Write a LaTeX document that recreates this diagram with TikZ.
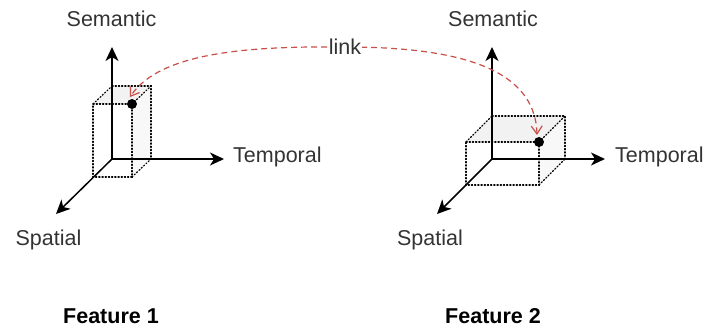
\documentclass[tikz,border=0pt]{standalone}
\usepackage{fontspec}
\setmainfont{Liberation Sans}
\usetikzlibrary{arrows.meta}
\definecolor{txt}{HTML}{333333}
\definecolor{linkred}{HTML}{C8504A}
\definecolor{topface}{HTML}{F2F2F2}
\definecolor{sideface}{HTML}{F8F8F8}
\tikzset{
  axis/.style={line width=1.5pt, -{Stealth[length=14pt,width=13pt,inset=4pt]}},
  edge/.style={dotted, line width=1.2pt, line cap=round},
  lbl/.style={font=\fontsize{21.5}{24}\selectfont, text=txt, inner sep=0pt},
  feat/.style={font=\fontsize{21.5}{24}\selectfont\bfseries, text=black, inner sep=0pt},
  linkline/.style={dashed, dash pattern=on 6pt off 4pt, line width=1.2pt, draw=linkred,
    {Straight Barb[length=8pt,width=11pt,line width=1.2pt]}-{Straight Barb[length=8pt,width=11pt,line width=1.2pt]}},
  pt/.style={circle, fill=black, inner sep=0pt, minimum size=10pt}
}
\begin{document}
\begin{tikzpicture}[x=1pt,y=-1pt]
\useasboundingbox (0,0) rectangle (705,330);
% ---------- Feature 1 ----------
\coordinate (o1) at (112,159);
\coordinate (u1) at (112,47);
\coordinate (r1) at (224,159);
\coordinate (d1) at (56,214);
% cube 1 back
\coordinate (b1bl) at (112,159); \coordinate (b1br) at (151,159);
\coordinate (b1tr) at (151,86);  \coordinate (b1tl) at (112,86);
% cube 1 front
\coordinate (f1bl) at (93,177); \coordinate (f1br) at (132,177);
\coordinate (f1tr) at (132,104); \coordinate (f1tl) at (93,104);
\fill[topface] (f1tl) -- (f1tr) -- (b1tr) -- (b1tl) -- cycle;
\fill[sideface] (f1tr) -- (b1tr) -- (b1br) -- (f1br) -- cycle;
\draw[edge] (f1tl) -- (f1tr) -- (f1br) -- (f1bl) -- cycle;
\draw[edge] (b1tl) -- (b1tr) -- (b1br);
\draw[edge] (f1tl) -- (b1tl);
\draw[edge] (f1tr) -- (b1tr);
\draw[edge] (f1br) -- (b1br);
\draw[axis] (o1) -- (u1);
\draw[axis] (o1) -- (r1);
\draw[axis] (o1) -- (d1);
\node[pt] (p1) at (f1tr) {};
\node[lbl] (sem1) at (111.5,19) {Semantic};
\node[lbl, anchor=west] (tem1) at (233,157) {Temporal};
\node[lbl] (spa1) at (48.5,240) {Spatial};
\node[feat] (fe1) at (111,316) {Feature 1};
% ---------- Feature 2 ----------
\coordinate (o2) at (492,159);
\coordinate (u2) at (492,47);
\coordinate (r2) at (605,159);
\coordinate (d2) at (437,214);
\coordinate (b2bl) at (492,159); \coordinate (b2br) at (565,159);
\coordinate (b2tr) at (565,116); \coordinate (b2tl) at (492,116);
\coordinate (f2bl) at (466,185); \coordinate (f2br) at (539,185);
\coordinate (f2tr) at (539,142); \coordinate (f2tl) at (466,142);
\fill[topface] (f2tl) -- (f2tr) -- (b2tr) -- (b2tl) -- cycle;
\fill[sideface] (f2tr) -- (b2tr) -- (b2br) -- (f2br) -- cycle;
\draw[edge] (f2tl) -- (f2tr) -- (f2br) -- (f2bl) -- cycle;
\draw[edge] (b2tl) -- (b2tr) -- (b2br);
\draw[edge] (f2tl) -- (b2tl);
\draw[edge] (f2tr) -- (b2tr);
\draw[edge] (f2br) -- (b2br);
\draw[axis] (o2) -- (u2);
\draw[axis] (o2) -- (r2);
\draw[axis] (o2) -- (d2);
\node[pt] (p2) at (f2tr) {};
\node[lbl] (sem2) at (493,19) {Semantic};
\node[lbl, anchor=west] (tem2) at (615,157) {Temporal};
\node[lbl] (spa2) at (430,240) {Spatial};
\node[feat] (fe2) at (493,316) {Feature 2};
% ---------- link ----------
\coordinate (la) at (537,135);
\coordinate (lm) at (345,47);
\coordinate (lb) at (130,97);
\draw[linkline] (la) .. controls (535,65) and (450,47) .. (lm)
  .. controls (250,46) and (160,52) .. (lb);
\node[lbl, fill=white, inner xsep=1pt, inner ysep=1pt] (lk) at (lm) {link};
\end{tikzpicture}
\end{document}
